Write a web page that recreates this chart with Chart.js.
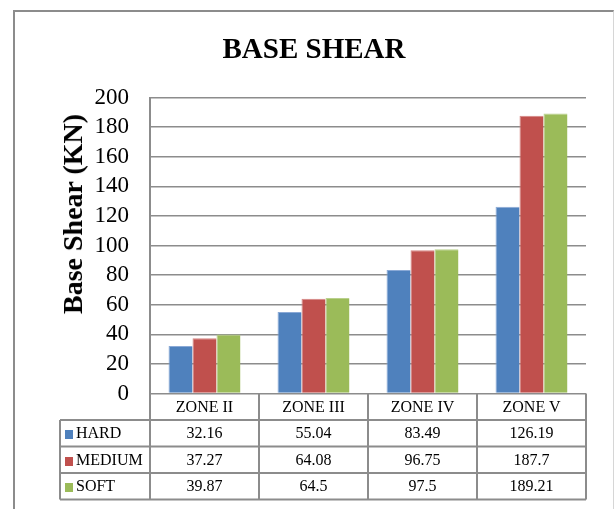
<!DOCTYPE html>
<html>
<head>
<meta charset="utf-8">
<script src="https://cdn.jsdelivr.net/npm/chart.js@4.4.0/dist/chart.umd.min.js"></script>
<style>
  html, body { margin: 0; padding: 0; background: #fff; }
  #wrap { position: relative; width: 614px; height: 509px; overflow: hidden;
          font-family: "Liberation Serif", "Times New Roman", serif; color: #000; }
  #frame { position: absolute; left: 13px; top: 10px; width: 598px; height: 530px;
           border-left: 2px solid #8c8c8c; border-top: 2px solid #8c8c8c; border-right: 1px solid #d6d6d6; }
  #chart { position: absolute; left: 0; top: 0; }
  #title { position: absolute; left: 0; top: 34px; width: 628px; text-align: center;
           font-weight: bold; font-size: 29px; line-height: 29px; white-space: nowrap; }
  #ytitle { position: absolute; left: 72.5px; top: 214px; font-weight: bold; font-size: 28px;
            white-space: nowrap; transform: translate(-50%, -50%) rotate(-90deg); }
  .cell { position: absolute; text-align: center; font-size: 16px; white-space: nowrap; }
  .rowname { position: absolute; font-size: 16px; white-space: nowrap; }
  .swatch { display: inline-block; width: 8px; height: 9px; margin-right: 3px; vertical-align: -1px; }
</style>
</head>
<body>
<div id="wrap">
  <div id="frame"></div>
  <canvas id="chart" width="614" height="509"></canvas>
  <div id="title">BASE SHEAR</div>
  <div id="ytitle">Base Shear (KN)</div>
  <div id="table"></div>
</div>
<script>
const zones = ["ZONE II", "ZONE III", "ZONE IV", "ZONE V"];
const seriesNames = ["HARD", "MEDIUM", "SOFT"];
const hard = [32.16, 55.04, 83.49, 126.19];
const medium = [37.27, 64.08, 96.75, 187.7];
const soft = [39.87, 64.5, 97.5, 189.21];
const yTicks = [0, 20, 40, 60, 80, 100, 120, 140, 160, 180, 200];

const colors = ["#4F81BD", "#C0504D", "#9BBB59"];
const edges = ["#8AA9D6", "#D58482", "#B9D08C"];
const seriesValues = [hard, medium, soft];

const GRID = "#8c8c8c";
const TABLE_LEFT = 60;
const ROW_H = 26.5;

// draws the data table grid under the plot, lined up with the x scale
const tableLines = {
  id: "tableLines",
  afterDraw(chart) {
    const { ctx, chartArea: a, scales: { x } } = chart;
    const colW = x.getPixelForValue(1) - x.getPixelForValue(0);
    const top = a.bottom;
    const bottom = top + ROW_H * (seriesNames.length + 1);
    ctx.save();
    ctx.strokeStyle = GRID;
    ctx.lineWidth = 2;
    ctx.beginPath();
    for (let r = 1; r <= seriesNames.length + 1; r++) {
      const y = top + r * ROW_H;
      ctx.moveTo(TABLE_LEFT, y);
      ctx.lineTo(a.right, y);
    }
    ctx.moveTo(TABLE_LEFT, top + ROW_H);
    ctx.lineTo(TABLE_LEFT, bottom);
    zones.forEach((z, i) => {
      const xl = x.getPixelForValue(i) - colW / 2;
      ctx.moveTo(xl, top);
      ctx.lineTo(xl, bottom);
    });
    ctx.moveTo(a.right, top);
    ctx.lineTo(a.right, bottom);
    ctx.stroke();
    ctx.restore();
  }
};

const chart = new Chart(document.getElementById("chart"), {
  type: "bar",
  data: {
    labels: zones,
    datasets: seriesNames.map((name, i) => ({
      label: name,
      data: seriesValues[i],
      backgroundColor: colors[i],
      borderColor: edges[i],
      borderWidth: { top: 1, left: 1, right: 0, bottom: 0 },
      categoryPercentage: 0.66,
      barPercentage: 1
    }))
  },
  options: {
    responsive: false,
    animation: false,
    devicePixelRatio: 1,
    layout: { padding: { left: 0, top: 97.5, right: 28, bottom: 115.5 } },
    plugins: {
      legend: { display: false },
      tooltip: { enabled: false },
      title: { display: false }
    },
    scales: {
      x: { display: false },
      y: {
        min: 0,
        max: 200,
        afterBuildTicks(scale) { scale.ticks = yTicks.map(v => ({ value: v })); },
        afterFit(scale) { scale.width = 150; },
        ticks: {
          color: "#000",
          padding: 21,
          autoSkip: false,
          font: { family: "Liberation Serif", size: 23 }
        },
        grid: { color: GRID, lineWidth: 1.5, drawTicks: false },
        border: { color: GRID, width: 2 }
      }
    }
  },
  plugins: [tableLines]
});

// table text as real html, placed from the chart's own scale
(function buildTable() {
  const a = chart.chartArea;
  const x = chart.scales.x;
  const colW = x.getPixelForValue(1) - x.getPixelForValue(0);
  const host = document.getElementById("table");
  const top = a.bottom;

  function cell(text, left, rowTop, width) {
    const d = document.createElement("div");
    d.className = "cell";
    d.style.left = left + "px";
    d.style.top = rowTop + "px";
    d.style.width = width + "px";
    d.style.height = ROW_H + "px";
    d.style.lineHeight = ROW_H + "px";
    d.textContent = text;
    host.appendChild(d);
  }

  zones.forEach((z, i) => cell(z, x.getPixelForValue(i) - colW / 2, top, colW));

  seriesNames.forEach((name, r) => {
    const rowTop = top + ROW_H * (r + 1);
    const lab = document.createElement("div");
    lab.className = "rowname";
    lab.style.left = (TABLE_LEFT + 5) + "px";
    lab.style.top = rowTop + "px";
    lab.style.height = ROW_H + "px";
    lab.style.lineHeight = ROW_H + "px";
    lab.innerHTML = '<span class="swatch" style="background:' + colors[r] + '"></span>' + name;
    host.appendChild(lab);
    seriesValues[r].forEach((v, i) => cell(String(v), x.getPixelForValue(i) - colW / 2, rowTop, colW));
  });
})();
</script>
</body>
</html>
